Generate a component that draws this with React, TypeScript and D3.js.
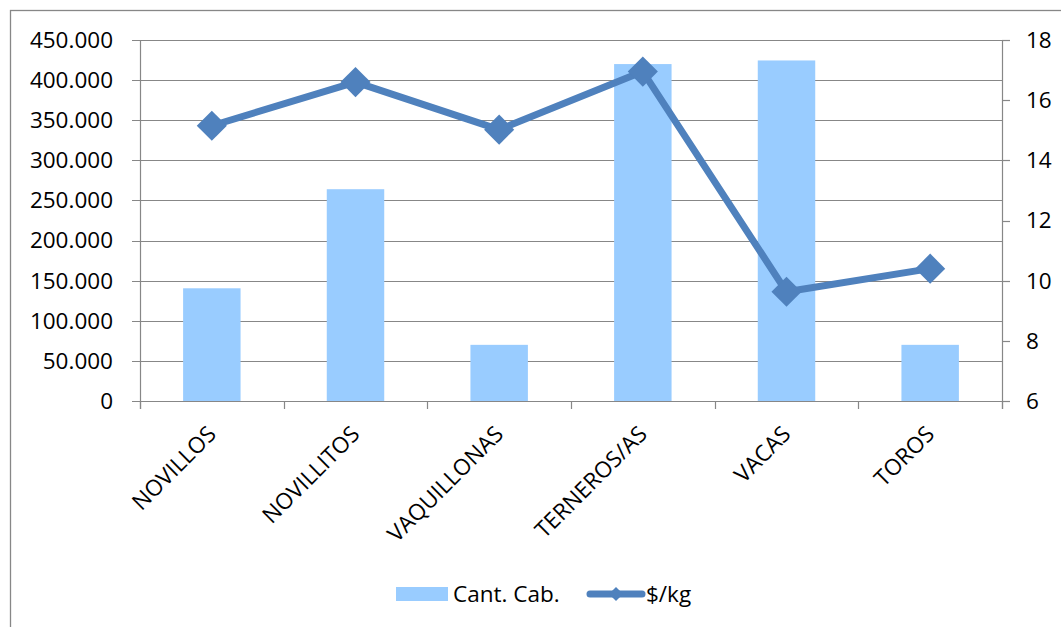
import React, { useEffect, useRef } from "react";
import * as d3 from "d3";

const categories = ["NOVILLOS", "NOVILLITOS", "VAQUILLONAS", "TERNEROS/AS", "VACAS", "TOROS"];
const cantCab = [140500, 264000, 70000, 420000, 424500, 70000];
const precioKg = [15.15, 16.6, 15.02, 16.95, 9.63, 10.4];
const leftTicks = [0, 50000, 100000, 150000, 200000, 250000, 300000, 350000, 400000, 450000];
const rightTicks = [6, 8, 10, 12, 14, 16, 18];

const W = 1061;
const H = 627;
const FONT = "'Open Sans', sans-serif";
const GRID = "#878787";
const BAR = "#99CCFF";
const LINE = "#4F81BD";

export default function App() {
  const ref = useRef<SVGSVGElement>(null);

  useEffect(() => {
    const svg = d3.select(ref.current);
    svg.selectAll("*").remove();

    const m = { left: 140, right: 1002, top: 40, bottom: 401 };

    const x = d3.scaleBand<string>().domain(categories).range([m.left, m.right]).paddingInner(0).paddingOuter(0);
    const yL = d3.scaleLinear().domain([0, 450000]).range([m.bottom, m.top]);
    const yR = d3.scaleLinear().domain([6, 18]).range([m.bottom, m.top]);
    const fmt = (v: number) => (v === 0 ? "0" : d3.format(",")(v).replace(/,/g, "."));

    // Chart frame
    svg.append("rect")
      .attr("x", 10.5).attr("y", 10.5)
      .attr("width", W + 20).attr("height", H + 20)
      .attr("fill", "none").attr("stroke", GRID).attr("stroke-width", 1.3);

    // Horizontal gridlines
    svg.append("g").selectAll("line").data(leftTicks).join("line")
      .attr("x1", m.left - 8).attr("x2", m.right)
      .attr("y1", (d) => Math.round(yL(d)) + 0.5).attr("y2", (d) => Math.round(yL(d)) + 0.5)
      .attr("stroke", GRID).attr("stroke-width", 1.2);

    // Left and right axis lines
    svg.append("line").attr("x1", m.left + 0.5).attr("x2", m.left + 0.5)
      .attr("y1", m.top).attr("y2", m.bottom + 8).attr("stroke", GRID).attr("stroke-width", 1.2);
    svg.append("line").attr("x1", m.right + 0.5).attr("x2", m.right + 0.5)
      .attr("y1", m.top).attr("y2", m.bottom + 8).attr("stroke", GRID).attr("stroke-width", 1.2);

    // Right axis ticks
    svg.append("g").selectAll("line").data(rightTicks).join("line")
      .attr("x1", m.right).attr("x2", m.right + 8)
      .attr("y1", (d) => Math.round(yR(d)) + 0.5).attr("y2", (d) => Math.round(yR(d)) + 0.5)
      .attr("stroke", GRID).attr("stroke-width", 1.2);

    // Category ticks
    const bounds = categories.map((c) => x(c)!).concat([m.right]);
    svg.append("g").selectAll("line").data(bounds).join("line")
      .attr("x1", (d) => Math.round(d) + 0.5).attr("x2", (d) => Math.round(d) + 0.5)
      .attr("y1", m.bottom).attr("y2", m.bottom + 8)
      .attr("stroke", GRID).attr("stroke-width", 1.2);

    // Bars
    const bw = x.bandwidth() * 0.4;
    svg.append("g").selectAll("rect").data(categories).join("rect")
      .attr("x", (c) => x(c)! + x.bandwidth() / 2 - bw / 2)
      .attr("width", bw)
      .attr("y", (_, i) => yL(cantCab[i]))
      .attr("height", (_, i) => m.bottom - yL(cantCab[i]))
      .attr("fill", BAR);

    // Redraw baseline over bars
    svg.append("line").attr("x1", m.left - 8).attr("x2", m.right)
      .attr("y1", m.bottom + 0.5).attr("y2", m.bottom + 0.5)
      .attr("stroke", GRID).attr("stroke-width", 1.2);

    // Price line
    const pts: [number, number][] = categories.map((c, i) => [x(c)! + x.bandwidth() / 2, yR(precioKg[i])]);
    svg.append("path")
      .attr("d", d3.line()(pts))
      .attr("fill", "none").attr("stroke", LINE).attr("stroke-width", 7)
      .attr("stroke-linejoin", "round");
    const dia = d3.symbol().type(d3.symbolDiamond2).size(2 * 17 * 17);
    svg.append("g").selectAll("path").data(pts).join("path")
      .attr("transform", (d) => `translate(${d[0]},${d[1]})`)
      .attr("d", dia()!)
      .attr("fill", LINE);

    // Left axis labels
    svg.append("g").selectAll("text").data(leftTicks).join("text")
      .attr("x", 113).attr("y", (d) => yL(d))
      .attr("dy", "0.35em")
      .attr("text-anchor", "end")
      .attr("font-family", FONT).attr("font-size", 22.5).attr("fill", "#000")
      .text(fmt);

    // Right axis labels
    svg.append("g").selectAll("text").data(rightTicks).join("text")
      .attr("x", 1026).attr("y", (d) => yR(d))
      .attr("dy", "0.35em")
      .attr("font-family", FONT).attr("font-size", 22.5).attr("fill", "#000")
      .text((d) => String(d));

    // Category labels
    svg.append("g").selectAll("text").data(categories).join("text")
      .attr("transform", (c) => `translate(${x(c)! + x.bandwidth() / 2},${m.bottom + 29}) rotate(-45)`)
      .attr("text-anchor", "end")
      .attr("dy", "0.35em")
      .attr("font-family", FONT).attr("font-size", 22.5).attr("fill", "#000")
      .text((c) => c);

    // Legend
    const lg = svg.append("g");
    lg.append("rect").attr("x", 396).attr("y", 587).attr("width", 52).attr("height", 14).attr("fill", BAR);
    lg.append("text").attr("x", 453).attr("y", 594).attr("dy", "0.35em")
      .attr("font-family", FONT).attr("font-size", 22.5).attr("fill", "#000").text("Cant. Cab.");
    lg.append("line").attr("x1", 590).attr("x2", 642).attr("y1", 594).attr("y2", 594)
      .attr("stroke", LINE).attr("stroke-width", 7).attr("stroke-linecap", "round");
    lg.append("path").attr("transform", "translate(616,594)")
      .attr("d", d3.symbol().type(d3.symbolDiamond2).size(2 * 8 * 8)()!)
      .attr("fill", LINE);
    lg.append("text").attr("x", 646).attr("y", 594).attr("dy", "0.35em")
      .attr("font-family", FONT).attr("font-size", 22.5).attr("fill", "#000").text("$/kg");
  }, []);

  return (
    <svg ref={ref} width={W} height={H} style={{ position: "absolute", left: 0, top: 0, background: "#fff" }} />
  );
}
